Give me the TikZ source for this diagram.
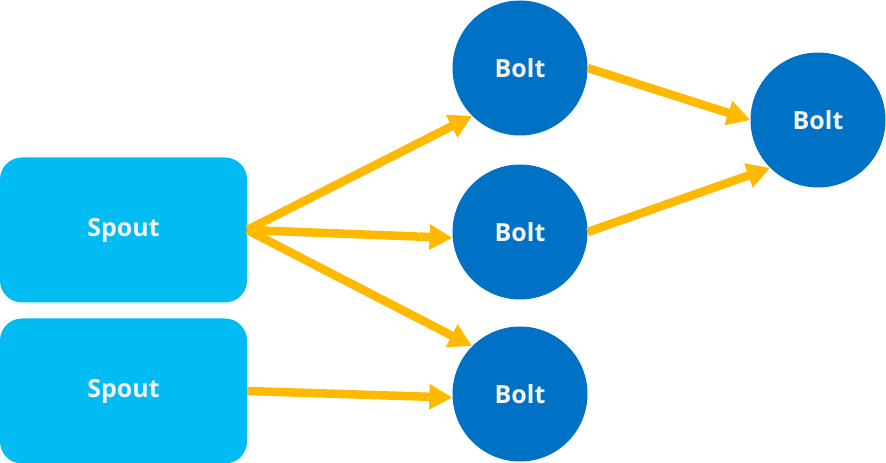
\documentclass[tikz,border=0pt]{standalone}
\usepackage{fontspec}
\setmainfont{Open Sans}
\usetikzlibrary{arrows.meta}
\definecolor{spoutblue}{HTML}{00BCF2}
\definecolor{boltblue}{HTML}{0072C6}
\definecolor{streamgold}{HTML}{FFB900}
\definecolor{labelwhite}{HTML}{F2F2F2}
\tikzset{
  spout/.style={fill=spoutblue, rounded corners=22pt, minimum width=247pt,
    minimum height=145pt, inner sep=0pt, text=labelwhite,
    font=\fontsize{25}{29}\selectfont\bfseries},
  bolt/.style={circle, fill=boltblue, minimum size=135pt, inner sep=0pt,
    text=labelwhite, font=\fontsize{25}{29}\selectfont\bfseries},
  stream/.style={draw=streamgold, line width=8.5pt,
    -{Triangle[length=23pt,width=24pt]}}
}

\begin{document}
\begin{tikzpicture}[x=1pt,y=1pt]
    \useasboundingbox (0,0) rectangle (886,463);
    % spouts
    \node[spout] (s1) at (123.5,233) {Spout};
    \node[spout] (s2) at (123.5,72) {Spout};
    % bolts
    \node[bolt] (b1) at (520,395) {Bolt};
    \node[bolt] (b2) at (520,231) {Bolt};
    \node[bolt] (b3) at (520,69) {Bolt};
    \node[bolt] (r) at (818,343) {Bolt};
    % streams
    \draw[stream] (s1.east) -- (b1.225);
    \draw[stream] (s1.east) -- (b2.185);
    \draw[stream] (s1.east) -- (b3.135);
    \draw[stream] (s2.east) -- (b3.183);
    \draw[stream] (b1.east) -- (r.west);
    \draw[stream] (b2.east) -- (r.225);
\end{tikzpicture}
\end{document}
